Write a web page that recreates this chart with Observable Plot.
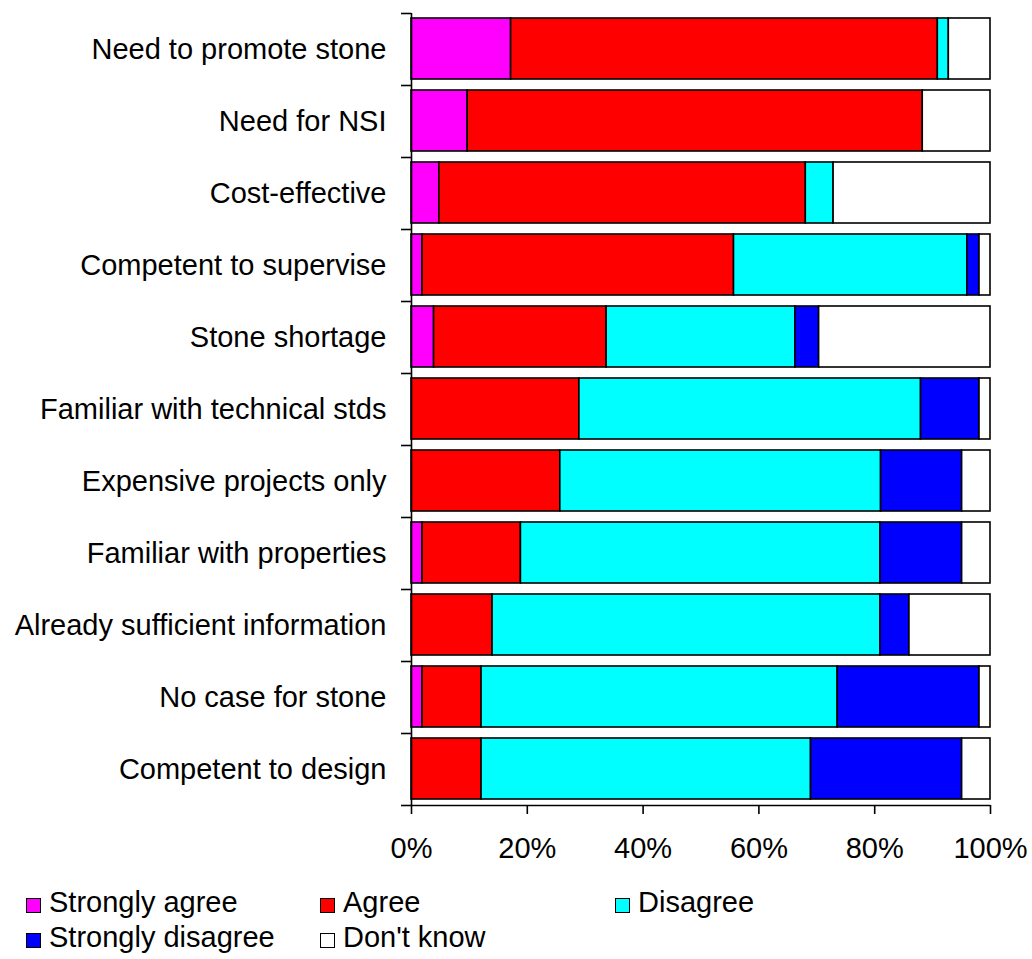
<!DOCTYPE html>
<html>
<head>
<meta charset="utf-8">
<script src="https://cdn.jsdelivr.net/npm/d3@7"></script>
<script src="https://cdn.jsdelivr.net/npm/@observablehq/plot@0.6"></script>
<style>
  html, body { margin: 0; padding: 0; background: #ffffff; }
  body { width: 1032px; height: 959px; position: relative; overflow: hidden;
         font-family: "Liberation Sans", Arial, sans-serif; }
  #legend { position: absolute; left: 0; top: 0; width: 1032px; height: 959px; pointer-events: none; }
  .item { position: absolute; height: 35px; line-height: 35px; font-size: 29px; color: #000; white-space: nowrap; }
  .sw { position: absolute; left: 0; top: 13px; width: 13px; height: 13px; border: 1.5px solid #000; }
  .lab { position: absolute; left: 23px; top: 0; }
</style>
</head>
<body>
<div id="chart"></div>
<div id="legend"></div>
<script>
// ---- data (percent of respondents) ----
const categories = [
  "Need to promote stone",
  "Need for NSI",
  "Cost-effective",
  "Competent to supervise",
  "Stone shortage",
  "Familiar with technical stds",
  "Expensive projects only",
  "Familiar with properties",
  "Already sufficient information",
  "No case for stone",
  "Competent to design"
];
const seriesNames = ["Strongly agree", "Agree", "Disagree", "Strongly disagree", "Don't know"];
const seriesColors = ["#ff00ff", "#ff0000", "#00ffff", "#0000ff", "#ffffff"];
const stronglyAgree    = [17.2,  9.7,  4.8,  1.9,  3.9,  0.0,  0.0,  1.9,  0.0,  1.9,  0.0];
const agree            = [73.7, 78.6, 63.3, 53.8, 29.8, 29.0, 25.7, 17.0, 14.0, 10.2, 12.1];
const disagree         = [ 1.9,  0.0,  4.8, 40.3, 32.6, 59.0, 55.4, 62.1, 67.0, 61.5, 56.9];
const stronglyDisagree = [ 0.0,  0.0,  0.0,  2.1,  4.1, 10.1, 14.0, 14.1,  5.0, 24.5, 26.1];
const dontKnow         = [ 7.2, 11.7, 27.1,  1.9, 29.6,  1.9,  4.9,  4.9, 14.0,  1.9,  4.9];
const xTicks = [0, 20, 40, 60, 80, 100];
const xTickLabels = ["0%", "20%", "40%", "60%", "80%", "100%"];

// ---- build long table ----
const seriesValues = [stronglyAgree, agree, disagree, stronglyDisagree, dontKnow];
const rows = [];
categories.forEach((cat, i) => {
  seriesNames.forEach((s, j) => {
    const v = seriesValues[j][i];
    if (v > 0) rows.push({category: cat, idx: i, series: s, value: v});
  });
});

const boundaries = d3.range(0, categories.length + 1);
const centers = categories.map((c, i) => i + 0.5);

const chart = Plot.plot({
  width: 1032,
  height: 880,
  marginLeft: 411,
  marginRight: 42,
  marginTop: 13,
  marginBottom: 75,
  style: {fontFamily: "'Liberation Sans', Arial, sans-serif", fontSize: "29px", color: "#000", background: "#ffffff"},
  x: {domain: [0, 100], label: null},
  y: {domain: [0, categories.length], reverse: true, label: null},
  color: {domain: seriesNames, range: seriesColors},
  marks: [
    Plot.rectX(rows, {
      x: "value", y: "idx", y1: "idx", y2: d => d.idx + 1,
      fill: "series", stroke: "#000", strokeWidth: 1.6,
      insetTop: 5, insetBottom: 6
    }),
    Plot.ruleX([0], {stroke: "#000", strokeWidth: 1.6}),
    Plot.ruleY([categories.length], {stroke: "#000", strokeWidth: 1.6}),
    Plot.axisY({ticks: boundaries, tickSize: 10, tickFormat: () => "", strokeWidth: 1.6, label: null}),
    Plot.axisY({ticks: centers, tickSize: 0, tickPadding: 25, tickFormat: v => categories[Math.floor(v)], fontSize: 29, label: null}),
    Plot.axisX({ticks: xTicks, tickSize: 9, tickPadding: 23, tickFormat: v => xTickLabels[xTicks.indexOf(v)], fontSize: 29, strokeWidth: 1.6, label: null})
  ]
});
document.getElementById("chart").appendChild(chart);

// ---- legend (HTML, below the SVG) ----
const legendPos = [[26, 885], [320, 885], [615, 885], [26, 920], [320, 920]];
const legend = document.getElementById("legend");
seriesNames.forEach((s, j) => {
  const item = document.createElement("div");
  item.className = "item";
  item.style.left = legendPos[j][0] + "px";
  item.style.top = legendPos[j][1] + "px";
  const sw = document.createElement("span");
  sw.className = "sw";
  sw.style.background = seriesColors[j];
  const lab = document.createElement("span");
  lab.className = "lab";
  lab.textContent = s;
  item.appendChild(sw);
  item.appendChild(lab);
  legend.appendChild(item);
});
</script>
</body>
</html>
